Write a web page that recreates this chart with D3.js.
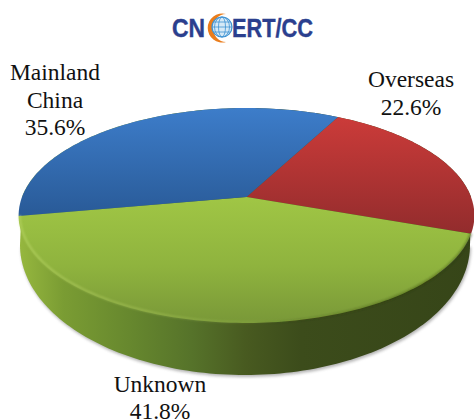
<!DOCTYPE html>
<html><head><meta charset="utf-8">
<script src="https://cdn.jsdelivr.net/npm/d3@7"></script>
<style>html,body{margin:0;padding:0;background:#fff;overflow:hidden}svg{display:block}</style>
</head><body><svg id="c" width="474" height="419"></svg>
<script>
const categories = ["Overseas", "Unknown", "Mainland China"];
const values = [22.6, 41.8, 35.6];
const labelLines = [["Overseas", "22.6%"], ["Unknown", "41.8%"], ["Mainland", "China", "35.6%"]];
const startDeg = 28;

const svg = d3.select("#c");
const defs = svg.append("defs");
const W = {cx: 246.5, cy: 197, a: 104.3, b: 224.5, k: 0.172};
const project = t => {
  const u = Math.sin(t), v = -Math.cos(t), d = 1 - W.k * v;
  return [W.cx + W.b * u / d, W.cy + W.a * v / d];
};
const line = d3.line();
const pie = d3.pie().value(d => d).sort(null)
  .startAngle(startDeg * Math.PI / 180).endAngle((startDeg + 360) * Math.PI / 180);
const arcs = pie(values);
const arcPts = (a0, a1) => d3.range(0, 121).map(i => project(a0 + (a1 - a0) * i / 120));

function grad(id, x1, y1, x2, y2, stops) {
  const g = defs.append("linearGradient").attr("id", id).attr("gradientUnits", "userSpaceOnUse")
    .attr("x1", x1).attr("y1", y1).attr("x2", x2).attr("y2", y2);
  stops.forEach(s => g.append("stop").attr("offset", s[0]).attr("stop-color", s[1]).attr("stop-opacity", s[2] === undefined ? 1 : s[2]));
}
grad("g0", 0, 118, 0, 240, [[0, "#cb3b39"], [1, "#8f2b2c"]]);
grad("g1", 0, 197, 0, 323, [[0, "#a0c645"], [0.55, "#8fb33e"], [1, "#799838"]]);
grad("g2", 0, 108, 0, 216, [[0, "#3d7dca"], [1, "#295a97"]]);
grad("wall", 18, 0, 474, 0, [[0, "#97b83f"], [0.1, "#7a9c33"], [0.25, "#66872e"], [0.38, "#56732a"], [0.5, "#485a20"], [0.62, "#3c4c1b"], [1, "#364518"]]);
grad("rim", 18, 0, 300, 0, [[0, "#c3dc70", 0.7], [0.5, "#b4d062", 0.5], [0.9, "#a8c858", 0.1], [1, "#a8c858", 0]]);
grad("rimDark", 250, 0, 474, 0, [[0, "#2c3a10", 0], [0.5, "#2c3a10", 0.3], [1, "#2c3a10", 0.5]]);
const blur = defs.append("filter").attr("id", "blur").attr("x", "-5%").attr("y", "-5%").attr("width", "110%").attr("height", "115%");
blur.append("feGaussianBlur").attr("stdDeviation", 1.5);
const soft = defs.append("filter").attr("id", "soft").attr("x", "-5%").attr("y", "-5%").attr("width", "110%").attr("height", "115%");
soft.append("feGaussianBlur").attr("stdDeviation", 0.8);

// side wall: lower rim ellipse joined to the upper rim
const B = {cx: 245, cy: 245, rx: 225, ry: 130};
const lowerEdge = d3.range(0, 121).map(i => {
  const t = Math.PI * i / 120;
  return [B.cx + B.rx * Math.cos(t), B.cy + B.ry * Math.sin(t)];
});
const wallPts = lowerEdge.concat(arcPts(1.5 * Math.PI, 2.5 * Math.PI));
svg.append("path").attr("d", line(lowerEdge.map(p => [p[0] + 1, p[1] + 2])) + "Z")
  .attr("fill", "#777").attr("opacity", 0.55).attr("filter", "url(#blur)");
svg.append("path").attr("d", line(wallPts) + "Z").attr("fill", "url(#wall)");

// top face
const center = [W.cx, W.cy];
svg.selectAll("path.slice").data(arcs).join("path").attr("class", "slice")
  .attr("d", d => line([center].concat(arcPts(d.startAngle, d.endAngle))) + "Z")
  .attr("fill", (d, i) => `url(#g${i})`);

// bevel along the rim of the front slice
const front = arcs[1];
const rimPts = arcPts(front.startAngle, front.endAngle);
svg.append("path").attr("d", line(rimPts)).attr("fill", "none").attr("stroke", "url(#rimDark)")
  .attr("stroke-width", 2.5).attr("filter", "url(#soft)");
svg.append("path").attr("d", line(rimPts.map(p => [p[0] + (247 - p[0]) * 0.005, p[1] - 0.8])))
  .attr("fill", "none").attr("stroke", "url(#rim)").attr("stroke-width", 1.5).attr("filter", "url(#soft)");

// labels
const labelAnchors = [[411, 87], [160, 391.5], [55, 80]];
const labelStep = 27.5;
labelLines.forEach((lines, i) => {
  const t = svg.append("text").attr("text-anchor", "middle")
    .attr("font-family", "'Liberation Serif', serif").attr("font-size", 23.5).attr("fill", "#111");
  lines.forEach((s, j) => t.append("tspan").attr("x", labelAnchors[i][0])
    .attr("y", labelAnchors[i][1] + j * labelStep).text(s));
});

// logo
const logo = svg.append("g");
const logoText = (s, x, len) => logo.append("text").attr("x", x).attr("y", 37)
  .attr("font-family", "'Liberation Sans', sans-serif").attr("font-weight", 700).attr("font-size", 26)
  .attr("fill", "#2b3f8e").attr("stroke", "#2b3f8e").attr("stroke-width", 0.4)
  .attr("textLength", len).attr("lengthAdjust", "spacingAndGlyphs").text(s);
logoText("CN", 172, 33);
logoText("ERT/CC", 232, 81);
const gx = 218, gy = 28;
logo.append("path").attr("fill", "#ea7d1c")
  .attr("d", `M${gx + 8} ${gy - 14} A14.5 14.5 0 1 0 ${gx + 8} ${gy + 14} A11.5 12.5 0 1 1 ${gx + 8} ${gy - 14}Z`);
const globe = logo.append("g").attr("stroke", "#3f93d3").attr("fill", "none");
globe.append("circle").attr("cx", gx + 4).attr("cy", gy - 1).attr("r", 10).attr("fill", "#d6e9f6").attr("stroke-width", 1.2);
[3.5, 7.5].forEach(r => globe.append("ellipse").attr("cx", gx + 4).attr("cy", gy - 1).attr("rx", r).attr("ry", 10).attr("stroke-width", 0.8));
[-5, 0, 5].forEach(o => {
  const w = Math.sqrt(100 - o * o);
  globe.append("line").attr("x1", gx + 4 - w).attr("x2", gx + 4 + w).attr("y1", gy - 1 + o).attr("y2", gy - 1 + o).attr("stroke-width", 0.8);
});
</script></body></html>
